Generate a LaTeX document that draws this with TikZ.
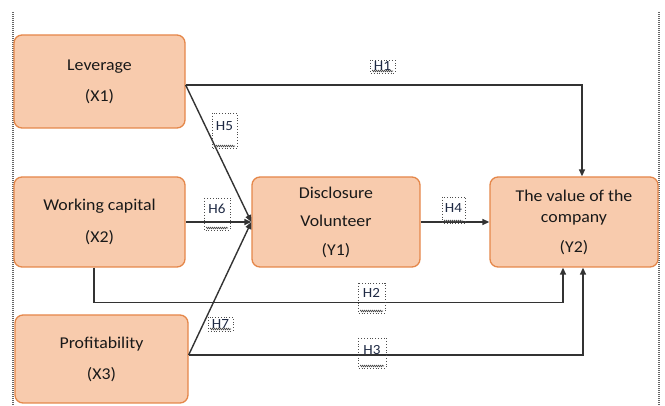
\documentclass[tikz,border=0pt]{standalone}
\usepackage{fontspec}
\setmainfont{Carlito}[FakeStretch=1.08]
\usetikzlibrary{arrows.meta,decorations.pathmorphing,calc}
\definecolor{boxfill}{HTML}{F8CBAD}
\definecolor{boxline}{HTML}{E5874A}
\definecolor{linec}{HTML}{333333}
\definecolor{labc}{HTML}{1F2A44}
\tikzset{
 varbox/.style={draw=boxline, line width=1.3pt, fill=boxfill, rounded corners=8pt, align=center, inner sep=0pt, font=\fontsize{16.5}{31}\selectfont, text=black!90},
 arr/.style={draw=linec, line width=1.4pt, -{Triangle[length=7pt,width=6pt]}},
 hbox/.style={draw=black!70, dotted, line width=0.8pt},
 htxt/.style={font=\fontsize{14}{14}\selectfont, text=labc, inner sep=0pt},
 squig/.style={draw=black!70, line width=0.6pt, decorate, decoration={snake, amplitude=0.8pt, segment length=2pt}},
 border/.style={draw=black!60, line width=1.2pt, dash pattern=on 1pt off 1pt}
}
\newcommand{\hlabel}[7]{%
 \path[hbox] (#2,#3) rectangle (#4,#5);
 \node[htxt] (#1) at ({(#2+#4)/2},#6) {#7};
 \draw[squig] ({#2+2},{#5-2}) -- ({#4-2},{#5-2});
}
\begin{document}
\begin{tikzpicture}[x=1pt,y=-1pt]
\useasboundingbox (0,0) rectangle (665,406);
% frame
\draw[border] (13,12) -- (13,406);
\draw[border] (659,12) -- (659,406);
% boxes
\node[varbox, minimum width=171pt, minimum height=93pt] (lev) at (99.5,81.5) {Leverage\\(X1)};
\node[varbox, minimum width=171pt, minimum height=90pt] (wc) at (99.5,222) {Working capital\\[1pt](X2)};
\node[varbox, minimum width=173pt, minimum height=88pt] (prof) at (101.5,359) {Profitability\\(X3)};
\node[varbox, minimum width=168pt, minimum height=90pt] (disc) at (336,222) {Disclosure\\[-2.5pt]Volunteer\\[-2.5pt](Y1)};
\node[varbox, minimum width=168pt, minimum height=90pt] (val) at (574,222) {The value of the\\[-10pt]company\\[-1pt](Y2)};
% connectors
\draw[arr] ([yshift=-3.5pt]lev.east) -| ([xshift=8pt]val.north);
\draw[arr] ([yshift=-3.5pt]lev.east) -- (disc.west);
\draw[arr] (wc.east) -- (disc.west);
\draw[arr] ([yshift=4pt]prof.east) -- (disc.west);
\draw[arr] (disc.east) -- (val.west);
\draw[arr] ([xshift=-5.5pt]wc.south) -- ++(0,35) -| ([xshift=-11pt]val.south);
\draw[arr] ([yshift=4pt]prof.east) -| ([xshift=9pt]val.south);
% labels
\hlabel{h1}{370}{60}{395}{73}{66}{H1}
\hlabel{h5}{212}{113}{237}{148}{126}{H5}
\hlabel{h6}{204}{198}{230}{230}{209}{H6}
\hlabel{h4}{442}{197}{465}{223}{208}{H4}
\hlabel{h2}{358}{283}{385}{313}{293}{H2}
\hlabel{h3}{358}{338}{386}{368}{350}{H3}
\hlabel{h7}{208}{317}{233}{331}{324}{H7}
\end{tikzpicture}
\end{document}
